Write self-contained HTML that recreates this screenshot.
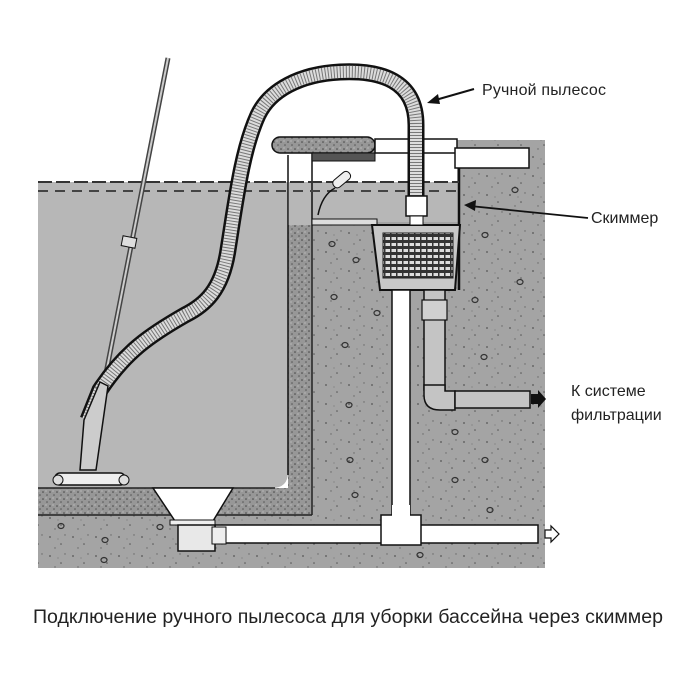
<!DOCTYPE html>
<html><head><meta charset="utf-8"><style>
html,body{margin:0;padding:0;background:#fff}
svg{display:block}
text{font-family:"Liberation Sans","DejaVu Sans",sans-serif;fill:#222}
</style></head><body>
<svg width="700" height="700" viewBox="0 0 700 700" xmlns="http://www.w3.org/2000/svg">
<defs>
<pattern id="sp" width="23" height="19" patternUnits="userSpaceOnUse">
<rect width="23" height="19" fill="#a4a4a4"/>
<circle cx="4" cy="5" r="0.9" fill="#555"/><circle cx="15" cy="12" r="0.8" fill="#555"/><circle cx="19" cy="3" r="0.7" fill="#666"/><circle cx="9" cy="16" r="0.7" fill="#666"/><circle cx="12" cy="7" r="0.6" fill="#777"/>
</pattern>
<pattern id="pl" width="7" height="7" patternUnits="userSpaceOnUse">
<rect width="7" height="7" fill="#979797"/>
<circle cx="1" cy="2" r="0.8" fill="#444"/><circle cx="5" cy="5" r="0.8" fill="#555"/><circle cx="4" cy="1" r="0.6" fill="#ccc"/>
</pattern>
<pattern id="mesh" width="6" height="6" patternUnits="userSpaceOnUse">
<rect width="6" height="6" fill="#ddd"/><rect width="6" height="3" fill="#333"/><rect width="1.5" height="6" fill="#333"/>
</pattern>
</defs>
<!-- concrete -->
<rect x="38" y="488" width="507" height="80" fill="url(#sp)"/>
<rect x="312" y="140" width="233" height="428" fill="url(#sp)"/>
<g fill="none" stroke="#333" stroke-width="1.2">
<ellipse cx="61" cy="526" rx="3" ry="2.5"/><ellipse cx="105" cy="540" rx="3" ry="2.5"/><ellipse cx="160" cy="527" rx="3" ry="2.5"/><ellipse cx="104" cy="560" rx="3" ry="2.5"/>
<ellipse cx="332" cy="244" rx="3" ry="2.5"/><ellipse cx="356" cy="260" rx="3" ry="2.5"/><ellipse cx="334" cy="297" rx="3" ry="2.5"/><ellipse cx="377" cy="313" rx="3" ry="2.5"/><ellipse cx="345" cy="345" rx="3" ry="2.5"/><ellipse cx="349" cy="405" rx="3" ry="2.5"/><ellipse cx="350" cy="460" rx="3" ry="2.5"/><ellipse cx="355" cy="495" rx="3" ry="2.5"/>
<ellipse cx="515" cy="190" rx="3" ry="2.5"/><ellipse cx="485" cy="235" rx="3" ry="2.5"/><ellipse cx="520" cy="282" rx="3" ry="2.5"/><ellipse cx="475" cy="300" rx="3" ry="2.5"/><ellipse cx="484" cy="357" rx="3" ry="2.5"/><ellipse cx="455" cy="432" rx="3" ry="2.5"/><ellipse cx="485" cy="460" rx="3" ry="2.5"/><ellipse cx="490" cy="510" rx="3" ry="2.5"/><ellipse cx="455" cy="480" rx="3" ry="2.5"/><ellipse cx="420" cy="555" rx="3" ry="2.5"/>
</g>
<!-- plaster wall + floor -->
<path d="M288,225 L312,225 L312,515 L38,515 L38,488 L288,488 Z" fill="url(#pl)"/>
<line x1="38" y1="515" x2="312" y2="515" stroke="#222" stroke-width="1.5"/>
<line x1="312" y1="225" x2="312" y2="515" stroke="#222" stroke-width="1.5"/>
<!-- water -->
<path d="M38,182 L288,182 L288,472 Q288,488 272,488 L38,488 Z" fill="#b7b7b7"/>
<line x1="38" y1="488" x2="275" y2="488" stroke="#222" stroke-width="1.5"/>
<line x1="288" y1="155" x2="288" y2="475" stroke="#111" stroke-width="1.5"/>
<!-- skimmer interior -->
<rect x="289" y="153" width="168" height="29" fill="#fff"/>
<rect x="312" y="182" width="146" height="40" fill="#b7b7b7"/>
<rect x="289" y="182" width="23" height="43" fill="#b7b7b7"/>
<line x1="312" y1="153" x2="312" y2="225" stroke="#111" stroke-width="1.5"/>
<rect x="312" y="219" width="65" height="6" fill="#ddd" stroke="#111" stroke-width="1"/>
<line x1="459" y1="150" x2="459" y2="290" stroke="#111" stroke-width="2.5"/>
<path d="M38,182 L459,182" stroke="#333" stroke-width="2" stroke-dasharray="14,4"/>
<path d="M38,191 L459,191" stroke="#444" stroke-width="2" stroke-dasharray="10,7"/>
<path d="M318,215 Q322,195 335,188" stroke="#111" stroke-width="1.5" fill="none"/>
<rect x="332" y="175" width="20" height="9" rx="4" transform="rotate(-40 342 180)" fill="#eee" stroke="#111"/>
<!-- lid -->
<rect x="272" y="137" width="103" height="16" rx="8" fill="url(#pl)" stroke="#111" stroke-width="1.5"/>
<rect x="312" y="153" width="63" height="8" fill="#555" stroke="#111"/>
<rect x="375" y="139" width="82" height="14" fill="#fff" stroke="#111" stroke-width="1.5"/>
<rect x="455" y="148" width="74" height="20" fill="#fff" stroke="#111" stroke-width="1.5"/>
<!-- basket -->
<path d="M372,225 L460,225 L455,290 L380,290 Z" fill="#c8c8c8" stroke="#111" stroke-width="2"/>
<rect x="383" y="233" width="70" height="45" fill="url(#mesh)" stroke="#222"/>
<rect x="392" y="290" width="18" height="228" fill="#fff" stroke="#111" stroke-width="1.5"/>
<!-- right pipe -->
<rect x="424" y="290" width="21" height="100" fill="#c4c4c4" stroke="#111" stroke-width="1.5"/>
<rect x="422" y="300" width="25" height="20" fill="#d0d0d0" stroke="#111" stroke-width="1.2"/>
<path d="M424,385 L445,385 L445,391 L455,391 L455,410 L440,410 Q424,410 424,395 Z" fill="#c4c4c4" stroke="#111" stroke-width="1.5"/>
<rect x="455" y="391" width="75" height="17" fill="#c4c4c4" stroke="#111" stroke-width="1.5"/>
<path d="M531,394 L538,394 L538,390 L546,399 L538,408 L538,404 L531,404 Z" fill="#111"/>
<!-- bottom pipe -->
<rect x="215" y="525" width="323" height="18" fill="#fff" stroke="#111" stroke-width="1.5"/>
<rect x="381" y="515" width="40" height="30" fill="#fff" stroke="#111" stroke-width="1.5"/>
<rect x="392" y="505" width="18" height="12" fill="#fff"/>
<path d="M545,530 L551,530 L551,526 L559,534 L551,542 L551,538 L545,538 Z" fill="#fff" stroke="#111" stroke-width="1.2"/>
<!-- drain -->
<path d="M153,488 L233,488 L213,521 L175,521 Z" fill="#fff" stroke="#111" stroke-width="1.5"/>
<rect x="170" y="520" width="45" height="5" fill="#eee" stroke="#111"/>
<rect x="178" y="525" width="37" height="26" fill="#e8e8e8" stroke="#111" stroke-width="1.5"/>
<rect x="212" y="527" width="14" height="17" fill="#eee" stroke="#111"/>
<!-- pole -->
<line x1="168" y1="58" x2="87" y2="470" stroke="#444" stroke-width="5"/>
<line x1="168" y1="58" x2="87" y2="470" stroke="#ccc" stroke-width="2"/>
<rect x="122" y="237" width="14" height="10" transform="rotate(11 129 242)" fill="#ddd" stroke="#111"/>
<!-- hose -->
<path d="M416,205 L416,125 C416,80 380,70 340,72 C300,74 270,90 258,115 C242,150 236,200 228,250 C222,290 205,305 185,315 C150,335 125,352 100,390 L88,420" fill="none" stroke="#111" stroke-width="17"/>
<path d="M416,205 L416,125 C416,80 380,70 340,72 C300,74 270,90 258,115 C242,150 236,200 228,250 C222,290 205,305 185,315 C150,335 125,352 100,390 L88,420" fill="none" stroke="#dcdcdc" stroke-width="12"/>
<path d="M416,205 L416,125 C416,80 380,70 340,72 C300,74 270,90 258,115 C242,150 236,200 228,250 C222,290 205,305 185,315 C150,335 125,352 100,390 L88,420" fill="none" stroke="#777" stroke-width="12" stroke-dasharray="1,2"/>
<rect x="406" y="196" width="21" height="20" fill="#fff" stroke="#111" stroke-width="1.5"/>
<rect x="410" y="216" width="13" height="9" fill="#fff" stroke="#111"/>
<!-- vacuum -->
<path d="M84,420 L100,382 L108,386 L96,470 L80,470 Z" fill="#ccc" stroke="#111" stroke-width="1.5"/>
<rect x="55" y="473" width="70" height="12" rx="5" fill="#eee" stroke="#111" stroke-width="1.5"/>
<circle cx="58" cy="480" r="5" fill="#ddd" stroke="#111"/><circle cx="124" cy="480" r="5" fill="#ddd" stroke="#111"/>
<!-- labels -->
<text x="482" y="95" font-size="16" textLength="124">Ручной пылесос</text>
<path d="M474,89 L432,101" stroke="#111" stroke-width="2"/><path d="M427,103 L438,94 L440,104 Z" fill="#111"/>
<text x="591" y="223" font-size="16">Скиммер</text>
<path d="M588,218 L470,206" stroke="#111" stroke-width="1.8"/><path d="M464,205 L476,200 L475,211 Z" fill="#111"/>
<text x="571" y="396" font-size="16">К системе</text>
<text x="571" y="420" font-size="16">фильтрации</text>
<text x="33" y="623" font-size="19" textLength="630" lengthAdjust="spacingAndGlyphs">Подключение ручного пылесоса для уборки бассейна через скиммер</text>
</svg>
</body></html>
